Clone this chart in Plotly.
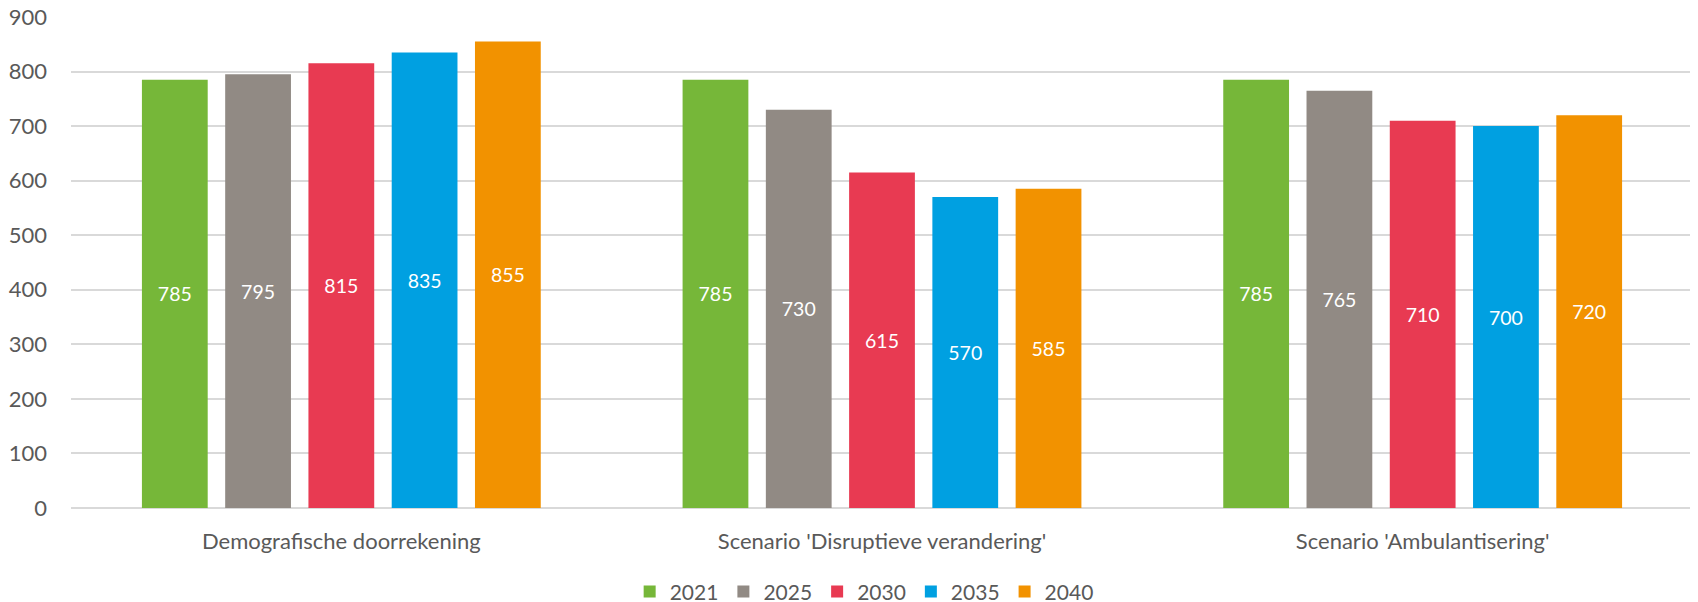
import plotly.graph_objects as go

categories = ["Demografische doorrekening", "Scenario 'Disruptieve verandering'", "Scenario 'Ambulantisering'"]
years = ["2021", "2025", "2030", "2035", "2040"]
values_2021 = [785, 785, 785]
values_2025 = [795, 730, 765]
values_2030 = [815, 615, 710]
values_2035 = [835, 570, 700]
values_2040 = [855, 585, 720]
colors = ["#76B739", "#918A84", "#E83A52", "#00A0E1", "#F29200"]

series = [values_2021, values_2025, values_2030, values_2035, values_2040]

FONT = "Lato"
GRAY = "#595959"

fig = go.Figure()
for name, vals, col in zip(years, series, colors):
    fig.add_trace(go.Bar(
        x=categories, y=vals, name=name,
        marker=dict(color=col, line=dict(width=0)),
        text=[str(v) for v in vals],
        textposition="inside", insidetextanchor="middle",
        textfont=dict(family=FONT, size=19.5, color="white"),
        hoverinfo="x+y+name",
    ))

# The page body has an 8px default margin; the figure is sized to fill the rest.
fig.update_layout(
    width=1690, height=594,
    margin=dict(l=63, r=5, t=9, b=94, pad=0, autoexpand=False),
    paper_bgcolor="white", plot_bgcolor="white",
    barmode="group", bargap=0.23, bargroupgap=0.21,
    font=dict(family=FONT, size=22, color=GRAY),
    uniformtext=dict(mode="show", minsize=10),
    legend=dict(
        orientation="h", x=0.489, xanchor="center", y=-0.171, yanchor="middle",
        font=dict(family=FONT, size=21, color=GRAY),
        traceorder="normal", itemclick=False,
    ),
    showlegend=True,
)
fig.update_yaxes(
    range=[0, 900], dtick=100, showgrid=True, gridcolor="#D9D9D9", gridwidth=1.5,
    zeroline=True, zerolinecolor="#D9D9D9", zerolinewidth=1.5,
    showline=False, ticks="", ticklabelstandoff=23, automargin=False,
    ticklabeloverflow="allow",
    tickfont=dict(family=FONT, size=22, color=GRAY), fixedrange=True,
)
fig.update_xaxes(
    showgrid=False, showline=False, ticks="", ticklabelstandoff=18, automargin=False,
    tickfont=dict(family=FONT, size=22, color=GRAY), fixedrange=True,
)

fig.write_html("out.html")
